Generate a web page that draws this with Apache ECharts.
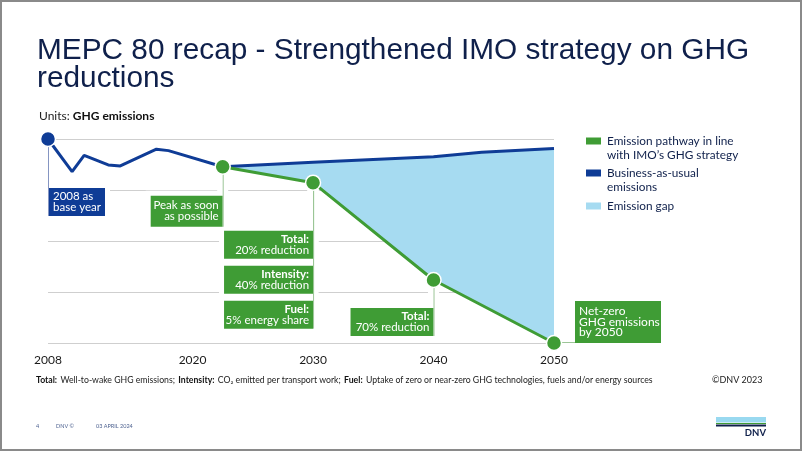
<!DOCTYPE html>
<html>
<head>
<meta charset="utf-8">
<script src="https://cdn.jsdelivr.net/npm/echarts@6/dist/echarts.min.js"></script>
<style>
    html, body { margin: 0; padding: 0; background: #fff; }
    #ghgChart { width: 802px; height: 451px; }
</style>
</head>
<body>
<div id="ghgChart"></div>
<script>
    // values (index: 2008 = 100)
    const yearTicks = [2008, 2020, 2030, 2040, 2050]
    const bauYears = [2008, 2010, 2011, 2013, 2014, 2017, 2018, 2022.5, 2030, 2040, 2044, 2050]
    const bauValues = [100, 84, 92, 87.3, 86.8, 95, 94.3, 86.4, 88.6, 91.3, 93.5, 95.3]
    const pathYears = [2022.5, 2030, 2040, 2050]
    const pathValues = [86.4, 78.6, 30.9, 0]

    const NAVY = '#0f204b'
    const BLUE = '#0f3c96'
    const GREEN = '#3f9c35'
    const SKY = '#a6dbf1'
    const FONT = 'Lato, "Noto Sans", sans-serif'

    const bauData = bauYears.map((y, i) => [y, bauValues[i]])
    const pathData = pathYears.map((y, i) => [y, pathValues[i]])

    const myChart = echarts.init(document.getElementById('ghgChart'))

    let option = {
        animation: false,
        backgroundColor: '#fff',
        title: [
            {
                text: 'MEPC 80 recap - Strengthened IMO strategy on GHG\nreductions',
                left: 37,
                top: 37,
                padding: 0,
                textStyle: {
                    fontFamily: '"Liberation Sans", Arial, sans-serif',
                    fontSize: 29.8,
                    fontWeight: 'normal',
                    color: NAVY,
                    lineHeight: 28
                }
            },
            {
                text: '{a|Units: }{b|GHG emissions}',
                left: 39,
                top: 110,
                padding: 0,
                textStyle: {
                    fontWeight: 'normal',
                    rich: {
                        a: { fontFamily: FONT, fontSize: 12, color: '#222', fontWeight: 'normal' },
                        b: { fontFamily: FONT, fontSize: 12, color: '#111', fontWeight: 'bold' }
                    }
                }
            }
        ],
        grid: {
            left: 48,
            right: 248,
            top: 139,
            bottom: 108
        },
        xAxis: {
            type: 'value',
            min: 2008,
            max: 2050,
            axisLine: { show: false },
            axisTick: { show: false },
            splitLine: { show: false },
            axisLabel: {
                customValues: yearTicks,
                margin: 11,
                fontFamily: FONT,
                fontSize: 12,
                color: '#1a1a1a',
                formatter: v => String(v)
            }
        },
        yAxis: {
            type: 'value',
            min: 0,
            max: 100,
            interval: 25,
            axisLine: { show: false },
            axisTick: { show: false },
            axisLabel: { show: false },
            splitLine: { lineStyle: { color: '#cfcfcf', width: 1 } }
        },
        series: [
            {
                name: 'Emission gap',
                type: 'custom',
                z: 1,
                silent: true,
                data: [[2050, 0]],
                renderItem: (params, api) => {
                    const top = bauData.filter(p => p[0] >= pathYears[0])
                    const bottom = pathData.slice().reverse()
                    return {
                        type: 'polygon',
                        shape: { points: top.concat(bottom).map(p => api.coord(p)) },
                        style: { fill: SKY }
                    }
                }
            },
            {
                name: 'Business-as-usual emissions',
                type: 'line',
                z: 5,
                data: bauData,
                symbol: 'circle',
                symbolSize: (v, p) => p.dataIndex === 0 ? 15 : 0,
                lineStyle: { width: 3, color: BLUE },
                itemStyle: { color: BLUE, borderColor: '#fff', borderWidth: 1.5 }
            },
            {
                name: 'Emission pathway in line with IMO’s GHG strategy',
                type: 'line',
                z: 6,
                data: pathData,
                symbol: 'circle',
                symbolSize: 15,
                lineStyle: { width: 3, color: GREEN },
                itemStyle: { color: GREEN, borderColor: '#fff', borderWidth: 1.5 }
            }
        ]
    }
    myChart.setOption(option)

    // annotation boxes, anchored to the data points
    const px = p => myChart.convertToPixel({ gridIndex: 0 }, p)
    const notes = [
        { at: bauData[0], side: 'left', dy: 49, w: 57, h: 28, color: BLUE, line: '#8595c2',
          text: '{n|2008 as}\n{n|base year}' },
        { at: pathData[0], side: 'right', dy: 29, w: 72, h: 31, color: GREEN, line: '#9cc597',
          text: '{n|Peak as soon}\n{n|as possible}' },
        { at: pathData[1], side: 'right', dy: 48, w: 89, h: 28, color: GREEN, line: '#9cc597',
          text: '{b|Total:}\n{n|20% reduction}' },
        { at: pathData[1], side: 'right', dy: 83, w: 89, h: 28, color: GREEN, line: '#9cc597',
          text: '{b|Intensity:}\n{n|40% reduction}' },
        { at: pathData[1], side: 'right', dy: 118, w: 89, h: 28, color: GREEN, line: '#9cc597',
          text: '{b|Fuel:}\n{n|5% energy share}' },
        { at: pathData[2], side: 'right', dy: 28, w: 83, h: 28, color: GREEN, line: '#9cc597',
          text: '{b|Total:}\n{n|70% reduction}' }
    ]

    const rich = {
        n: { fontFamily: FONT, fontSize: 11.5, fill: '#fff', lineHeight: 11 },
        b: { fontFamily: FONT, fontSize: 11.5, fill: '#fff', lineHeight: 11, fontWeight: 'bold' }
    }

    let graphic = []
    notes.forEach(nt => {
        const a = px(nt.at)
        const x0 = nt.side === 'left' ? a[0] : a[0] - nt.w
        const y0 = a[1] + nt.dy
        graphic.push({ type: 'rect', z: 2, shape: { x: x0 - 5, y: y0 - 5, width: nt.w + 10, height: nt.h + 10 }, style: { fill: '#fff' } })
        graphic.push({ type: 'rect', z: 3, shape: { x: x0, y: y0, width: nt.w, height: nt.h }, style: { fill: nt.color } })
        graphic.push({
            type: 'text', z: 4,
            x: nt.side === 'left' ? x0 + 5 : x0 + nt.w - 4,
            y: y0 + nt.h / 2,
            style: {
                text: nt.text, rich: rich, fill: '#fff',
                textAlign: nt.side === 'left' ? 'left' : 'right',
                textVerticalAlign: 'middle'
            }
        })
        graphic.push({ type: 'line', z: 1, shape: { x1: a[0], y1: a[1], x2: a[0], y2: y0 }, style: { stroke: '#fff', lineWidth: 11 } })
        graphic.push({ type: 'line', z: 4, shape: { x1: a[0] + 0.5, y1: a[1], x2: a[0] + 0.5, y2: y0 + nt.h }, style: { stroke: nt.line, lineWidth: 1 } })
    })

    // net-zero box to the right of the 2050 point
    const nz = px(pathData[3])
    graphic.push({ type: 'line', z: 4, shape: { x1: nz[0], y1: nz[1] - 0.5, x2: nz[0] + 21, y2: nz[1] - 0.5 }, style: { stroke: '#9cc597', lineWidth: 1 } })
    graphic.push({ type: 'rect', z: 3, shape: { x: nz[0] + 21, y: nz[1] - 42, width: 86, height: 42 }, style: { fill: GREEN } })
    graphic.push({
        type: 'text', z: 4, x: nz[0] + 25, y: nz[1] - 21,
        style: {
            text: 'Net-zero\nGHG emissions\nby 2050',
            fontFamily: FONT, fontSize: 12, lineHeight: 10.5, fill: '#fff',
            textAlign: 'left', textVerticalAlign: 'middle'
        }
    })

    // legend
    const legendItems = [
        { color: GREEN, y: 141, text: 'Emission pathway in line\nwith IMO’s GHG strategy' },
        { color: BLUE, y: 173, text: 'Business-as-usual\nemissions' },
        { color: SKY, y: 206, text: 'Emission gap' }
    ]
    legendItems.forEach(li => {
        graphic.push({ type: 'rect', shape: { x: 586, y: li.y - 3.5, width: 15, height: 7 }, style: { fill: li.color } })
        graphic.push({
            type: 'text', x: 607, y: li.y - 7.5,
            style: { text: li.text, fontFamily: FONT, fontSize: 11.8, lineHeight: 14.5, fill: NAVY, textVerticalAlign: 'top' }
        })
    })

    // footnote and slide furniture
    graphic.push({
        type: 'text', x: 36, y: 380,
        style: {
            text: '{b|Total:} {n|Well-to-wake GHG emissions;} {b|Intensity:} {n|CO₂ emitted per transport work;} {b|Fuel:} {n|Uptake of zero or near-zero GHG technologies, fuels and/or energy sources}',
            textVerticalAlign: 'middle',
            rich: {
                b: { fontFamily: FONT, fontSize: 8.7, fontWeight: 'bold', fill: '#111' },
                n: { fontFamily: FONT, fontSize: 8.7, fill: '#222' }
            }
        }
    })
    graphic.push({ type: 'text', x: 712, y: 380, style: { text: '©DNV 2023', fontFamily: FONT, fontSize: 9, fill: '#222', textVerticalAlign: 'middle' } })
    graphic.push({ type: 'text', x: 36, y: 426, style: { text: '4', fontFamily: FONT, fontSize: 5.5, fill: '#4f6391', textVerticalAlign: 'middle' } })
    graphic.push({ type: 'text', x: 56, y: 426, style: { text: 'DNV ©', fontFamily: FONT, fontSize: 5.5, fill: '#4f6391', textVerticalAlign: 'middle' } })
    graphic.push({ type: 'text', x: 96, y: 426, style: { text: '03 APRIL 2024', fontFamily: FONT, fontSize: 5.5, fill: '#4f6391', textVerticalAlign: 'middle' } })
    graphic.push({ type: 'rect', shape: { x: 716, y: 417, width: 50, height: 5.5 }, style: { fill: '#99d9f0' } })
    graphic.push({ type: 'rect', shape: { x: 716, y: 423, width: 50, height: 1 }, style: { fill: GREEN } })
    graphic.push({ type: 'rect', shape: { x: 716, y: 424.5, width: 50, height: 2 }, style: { fill: NAVY } })
    graphic.push({ type: 'text', x: 766, y: 433, style: { text: 'DNV', fontFamily: FONT, fontSize: 9.5, fontWeight: 'bold', fill: NAVY, textAlign: 'right', textVerticalAlign: 'middle' } })
    graphic.push({ type: 'rect', z: 10, shape: { x: 1, y: 1, width: 800, height: 449 }, style: { fill: 'none', stroke: '#8a8a8a', lineWidth: 2 } })

    myChart.setOption({ graphic: graphic })
</script>
</body>
</html>
